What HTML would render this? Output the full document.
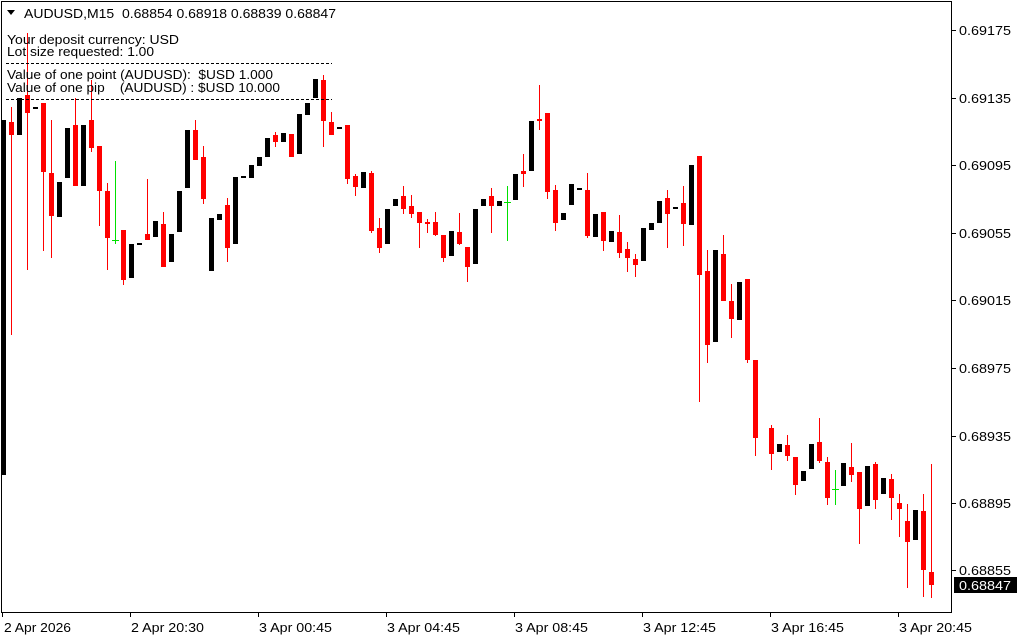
<!DOCTYPE html>
<html><head><meta charset="utf-8"><style>
html,body{margin:0;padding:0;background:#fff;width:1024px;height:640px;overflow:hidden}
svg{display:block;font-family:"Liberation Sans","DejaVu Sans",sans-serif}
text{white-space:pre}
</style></head><body>
<svg width="1024" height="640" viewBox="0 0 1024 640" xmlns="http://www.w3.org/2000/svg" xml:space="preserve">
<rect width="1024" height="640" fill="#fff"/>
<rect x="1.5" y="1.5" width="950" height="611" fill="none" stroke="#000" stroke-width="1"/>
<g id="c" shape-rendering="crispEdges">
<rect x="2" y="120" width="4" height="355" fill="#000"/>
<g fill="#f00">
<rect x="11" y="107" width="1" height="228"/><rect x="9" y="122" width="5" height="13"/>
<rect x="27" y="33" width="1" height="237"/><rect x="25" y="95" width="5" height="18"/>
<rect x="43" y="103" width="1" height="148"/><rect x="41" y="103" width="5" height="69"/>
<rect x="51" y="120" width="1" height="138"/><rect x="49" y="173" width="5" height="43"/>
<rect x="75" y="98" width="1" height="88"/><rect x="73" y="125" width="5" height="61"/>
<rect x="91" y="80" width="1" height="72"/><rect x="89" y="120" width="5" height="28"/>
<rect x="99" y="146" width="1" height="80"/><rect x="97" y="146" width="5" height="45"/>
<rect x="107" y="183" width="1" height="87"/><rect x="105" y="191" width="5" height="47"/>
<rect x="123" y="230" width="1" height="55"/><rect x="121" y="230" width="5" height="50"/>
<rect x="147" y="179" width="1" height="61"/><rect x="145" y="234" width="5" height="6"/>
<rect x="163" y="212" width="1" height="55"/><rect x="161" y="224" width="5" height="43"/>
<rect x="195" y="120" width="1" height="40"/><rect x="193" y="130" width="5" height="30"/>
<rect x="203" y="146" width="1" height="58"/><rect x="201" y="157" width="5" height="42"/>
<rect x="227" y="198" width="1" height="64"/><rect x="225" y="205" width="5" height="43"/>
<rect x="275" y="132" width="1" height="15"/><rect x="273" y="135" width="5" height="7"/>
<rect x="291" y="134" width="1" height="23"/><rect x="289" y="134" width="5" height="23"/>
<rect x="323" y="75" width="1" height="72"/><rect x="321" y="80" width="5" height="41"/>
<rect x="331" y="112" width="1" height="23"/><rect x="329" y="122" width="5" height="13"/>
<rect x="347" y="125" width="1" height="59"/><rect x="345" y="125" width="5" height="54"/>
<rect x="355" y="174" width="1" height="22"/><rect x="353" y="176" width="5" height="11"/>
<rect x="371" y="171" width="1" height="62"/><rect x="369" y="173" width="5" height="58"/>
<rect x="379" y="218" width="1" height="35"/><rect x="377" y="228" width="5" height="20"/>
<rect x="403" y="186" width="1" height="28"/><rect x="401" y="196" width="5" height="13"/>
<rect x="411" y="195" width="1" height="23"/><rect x="409" y="206" width="5" height="8"/>
<rect x="419" y="212" width="1" height="36"/><rect x="417" y="212" width="5" height="11"/>
<rect x="427" y="219" width="1" height="14"/><rect x="425" y="222" width="5" height="2"/>
<rect x="435" y="212" width="1" height="24"/><rect x="433" y="222" width="5" height="13"/>
<rect x="443" y="235" width="1" height="27"/><rect x="441" y="235" width="5" height="23"/>
<rect x="459" y="213" width="1" height="32"/><rect x="457" y="232" width="5" height="12"/>
<rect x="467" y="247" width="1" height="35"/><rect x="465" y="247" width="5" height="20"/>
<rect x="491" y="188" width="1" height="45"/><rect x="489" y="196" width="5" height="10"/>
<rect x="523" y="154" width="1" height="33"/><rect x="521" y="171" width="5" height="3"/>
<rect x="539" y="85" width="1" height="45"/><rect x="537" y="119" width="5" height="2"/>
<rect x="547" y="113" width="1" height="86"/><rect x="545" y="113" width="5" height="79"/>
<rect x="555" y="185" width="1" height="46"/><rect x="553" y="190" width="5" height="33"/>
<rect x="587" y="173" width="1" height="65"/><rect x="585" y="190" width="5" height="46"/>
<rect x="603" y="212" width="1" height="39"/><rect x="601" y="212" width="5" height="29"/>
<rect x="619" y="215" width="1" height="43"/><rect x="617" y="232" width="5" height="21"/>
<rect x="627" y="242" width="1" height="30"/><rect x="625" y="249" width="5" height="9"/>
<rect x="635" y="254" width="1" height="23"/><rect x="633" y="259" width="5" height="6"/>
<rect x="667" y="190" width="1" height="58"/><rect x="665" y="198" width="5" height="16"/>
<rect x="683" y="186" width="1" height="60"/><rect x="681" y="203" width="5" height="21"/>
<rect x="699" y="156" width="1" height="246"/><rect x="697" y="156" width="5" height="119"/>
<rect x="707" y="250" width="1" height="113"/><rect x="705" y="271" width="5" height="74"/>
<rect x="723" y="235" width="1" height="66"/><rect x="721" y="254" width="5" height="47"/>
<rect x="731" y="284" width="1" height="54"/><rect x="729" y="301" width="5" height="18"/>
<rect x="747" y="279" width="1" height="84"/><rect x="745" y="279" width="5" height="81"/>
<rect x="755" y="360" width="1" height="96"/><rect x="753" y="360" width="5" height="78"/>
<rect x="771" y="425" width="1" height="45"/><rect x="769" y="428" width="5" height="26"/>
<rect x="787" y="435" width="1" height="26"/><rect x="785" y="445" width="5" height="11"/>
<rect x="795" y="457" width="1" height="38"/><rect x="793" y="457" width="5" height="28"/>
<rect x="819" y="418" width="1" height="45"/><rect x="817" y="442" width="5" height="19"/>
<rect x="827" y="457" width="1" height="48"/><rect x="825" y="462" width="5" height="36"/>
<rect x="851" y="443" width="1" height="39"/><rect x="849" y="467" width="5" height="8"/>
<rect x="859" y="472" width="1" height="72"/><rect x="857" y="472" width="5" height="37"/>
<rect x="875" y="462" width="1" height="47"/><rect x="873" y="464" width="5" height="36"/>
<rect x="891" y="474" width="1" height="46"/><rect x="889" y="479" width="5" height="19"/>
<rect x="899" y="494" width="1" height="43"/><rect x="897" y="503" width="5" height="6"/>
<rect x="907" y="504" width="1" height="84"/><rect x="905" y="521" width="5" height="21"/>
<rect x="923" y="494" width="1" height="103"/><rect x="921" y="511" width="5" height="59"/>
<rect x="931" y="464" width="1" height="134"/><rect x="929" y="572" width="5" height="13"/>
</g>
<g fill="#000">
<rect x="17" y="98" width="5" height="37"/><rect x="33" y="107" width="5" height="2"/>
<rect x="57" y="182" width="5" height="35"/><rect x="65" y="128" width="5" height="50"/>
<rect x="81" y="125" width="5" height="61"/><rect x="129" y="244" width="5" height="34"/>
<rect x="137" y="243" width="5" height="2"/><rect x="153" y="221" width="5" height="16"/>
<rect x="169" y="234" width="5" height="28"/><rect x="177" y="191" width="5" height="41"/>
<rect x="185" y="130" width="5" height="58"/><rect x="209" y="218" width="5" height="53"/>
<rect x="217" y="214" width="5" height="6"/><rect x="233" y="177" width="5" height="67"/>
<rect x="241" y="176" width="5" height="2"/><rect x="249" y="165" width="5" height="13"/>
<rect x="257" y="157" width="5" height="9"/><rect x="265" y="138" width="5" height="19"/>
<rect x="281" y="133" width="5" height="9"/><rect x="297" y="114" width="5" height="40"/>
<rect x="305" y="103" width="5" height="12"/><rect x="313" y="79" width="5" height="19"/>
<rect x="337" y="127" width="5" height="2"/><rect x="361" y="172" width="5" height="16"/>
<rect x="385" y="209" width="5" height="35"/><rect x="393" y="199" width="5" height="7"/>
<rect x="449" y="231" width="5" height="25"/><rect x="473" y="209" width="5" height="55"/>
<rect x="481" y="199" width="5" height="7"/><rect x="497" y="201" width="5" height="5"/>
<rect x="513" y="174" width="5" height="26"/><rect x="529" y="121" width="5" height="50"/>
<rect x="561" y="213" width="5" height="7"/><rect x="569" y="184" width="5" height="21"/>
<rect x="577" y="188" width="5" height="2"/><rect x="593" y="214" width="5" height="23"/>
<rect x="609" y="231" width="5" height="11"/><rect x="641" y="228" width="5" height="33"/>
<rect x="649" y="223" width="5" height="7"/><rect x="657" y="201" width="5" height="22"/>
<rect x="673" y="207" width="5" height="2"/><rect x="689" y="165" width="5" height="60"/>
<rect x="713" y="250" width="5" height="92"/><rect x="737" y="282" width="5" height="38"/>
<rect x="777" y="444" width="5" height="8"/><rect x="801" y="471" width="5" height="10"/>
<rect x="809" y="444" width="5" height="25"/><rect x="841" y="463" width="5" height="23"/>
<rect x="865" y="466" width="5" height="40"/><rect x="881" y="478" width="5" height="16"/>
<rect x="913" y="510" width="5" height="30"/>
</g>
<g fill="#00e000">
<rect x="115" y="161" width="1" height="83"/><rect x="112" y="240" width="7" height="1"/>
<rect x="507" y="186" width="1" height="55"/><rect x="504" y="202" width="7" height="1"/>
<rect x="835" y="470" width="1" height="35"/><rect x="832" y="489" width="7" height="1"/>
</g>
</g>
<polygon points="7,10 15,10 11,15" fill="#000"/>
<text x="24" y="18" font-size="13" fill="#000" textLength="312" lengthAdjust="spacingAndGlyphs">AUDUSD,M15  0.68854 0.68918 0.68839 0.68847</text>
<g font-size="13" fill="#000">
<text x="7" y="44" textLength="172" lengthAdjust="spacingAndGlyphs">Your deposit currency: USD</text>
<text x="7" y="56" textLength="147" lengthAdjust="spacingAndGlyphs">Lot size requested: 1.00</text>
<text x="7" y="79" textLength="266" lengthAdjust="spacingAndGlyphs">Value of one point (AUDUSD):  $USD 1.000</text>
<text x="7" y="92" textLength="273" lengthAdjust="spacingAndGlyphs">Value of one pip    (AUDUSD) : $USD 10.000</text>
</g>
<line x1="6" y1="63.5" x2="332" y2="63.5" stroke="#000" stroke-dasharray="3,2"/>
<line x1="6" y1="99.5" x2="332" y2="99.5" stroke="#000" stroke-dasharray="3,2"/>
<g font-size="13" fill="#000" shape-rendering="crispEdges">
<rect x="952" y="30" width="4" height="1"/><text x="959" y="35" textLength="52" lengthAdjust="spacingAndGlyphs">0.69175</text>
<rect x="952" y="98" width="4" height="1"/><text x="959" y="103" textLength="52" lengthAdjust="spacingAndGlyphs">0.69135</text>
<rect x="952" y="165" width="4" height="1"/><text x="959" y="170" textLength="52" lengthAdjust="spacingAndGlyphs">0.69095</text>
<rect x="952" y="233" width="4" height="1"/><text x="959" y="238" textLength="52" lengthAdjust="spacingAndGlyphs">0.69055</text>
<rect x="952" y="300" width="4" height="1"/><text x="959" y="305" textLength="52" lengthAdjust="spacingAndGlyphs">0.69015</text>
<rect x="952" y="368" width="4" height="1"/><text x="959" y="373" textLength="52" lengthAdjust="spacingAndGlyphs">0.68975</text>
<rect x="952" y="436" width="4" height="1"/><text x="959" y="441" textLength="52" lengthAdjust="spacingAndGlyphs">0.68935</text>
<rect x="952" y="503" width="4" height="1"/><text x="959" y="508" textLength="52" lengthAdjust="spacingAndGlyphs">0.68895</text>
<rect x="952" y="570" width="4" height="1"/><text x="959" y="575" textLength="52" lengthAdjust="spacingAndGlyphs">0.68855</text>
<rect x="954" y="577" width="63" height="16" fill="#000"/>
<text x="959" y="590" fill="#fff" textLength="52" lengthAdjust="spacingAndGlyphs">0.68847</text>
</g>
<g font-size="13" fill="#000" shape-rendering="crispEdges">
<rect x="2" y="613" width="1" height="4"/><text x="4" y="632" textLength="67" lengthAdjust="spacingAndGlyphs">2 Apr 2026</text>
<rect x="130" y="613" width="1" height="4"/><text x="131" y="632" textLength="73" lengthAdjust="spacingAndGlyphs">2 Apr 20:30</text>
<rect x="258" y="613" width="1" height="4"/><text x="259" y="632" textLength="73" lengthAdjust="spacingAndGlyphs">3 Apr 00:45</text>
<rect x="386" y="613" width="1" height="4"/><text x="387" y="632" textLength="73" lengthAdjust="spacingAndGlyphs">3 Apr 04:45</text>
<rect x="514" y="613" width="1" height="4"/><text x="515" y="632" textLength="73" lengthAdjust="spacingAndGlyphs">3 Apr 08:45</text>
<rect x="642" y="613" width="1" height="4"/><text x="643" y="632" textLength="73" lengthAdjust="spacingAndGlyphs">3 Apr 12:45</text>
<rect x="770" y="613" width="1" height="4"/><text x="771" y="632" textLength="73" lengthAdjust="spacingAndGlyphs">3 Apr 16:45</text>
<rect x="898" y="613" width="1" height="4"/><text x="899" y="632" textLength="73" lengthAdjust="spacingAndGlyphs">3 Apr 20:45</text>
</g>
</svg>
</body></html>
